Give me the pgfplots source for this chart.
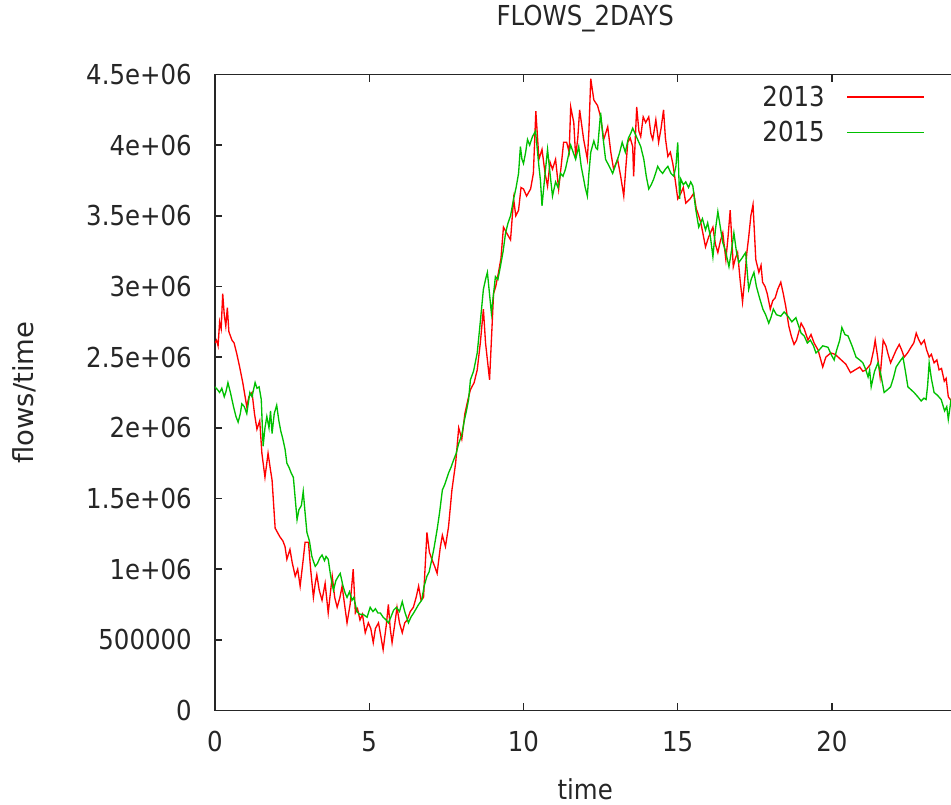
\documentclass[border=0pt]{standalone}
\usepackage{fontspec}
\setmainfont{DejaVu Sans}[FakeStretch=0.89]
\newfontfamily\ylabelfont{DejaVu Sans}
\usepackage{pgfplots}
\usepackage{pgfplotstable}
\pgfplotsset{compat=1.18}

\definecolor{gpred}{RGB}{255,0,0}
\definecolor{gpgreen}{RGB}{0,192,0}
\definecolor{gptext}{RGB}{38,38,38}
\newcommand\gpfont{\fontsize{20.6}{24}\selectfont}

% flows per time step, in millions
\pgfplotstableread{
t v
0.00 2.60
0.05 2.62
0.10 2.58
0.15 2.75
0.20 2.70
0.25 2.95
0.30 2.80
0.35 2.72
0.40 2.85
0.45 2.68
0.55 2.62
0.62 2.60
0.70 2.53
0.80 2.43
0.90 2.32
1.03 2.15
1.10 2.22
1.20 2.25
1.28 2.10
1.36 1.99
1.45 2.05
1.52 1.82
1.62 1.65
1.72 1.82
1.80 1.70
1.85 1.63
1.95 1.29
2.05 1.25
2.10 1.23
2.20 1.20
2.27 1.16
2.33 1.07
2.43 1.14
2.50 1.05
2.60 0.95
2.68 1.00
2.76 0.88
2.85 1.05
2.92 1.19
3.03 1.19
3.10 1.00
3.19 0.80
3.25 0.90
3.30 0.96
3.38 0.85
3.47 0.78
3.57 0.90
3.67 0.69
3.75 0.85
3.80 0.95
3.88 0.80
3.96 0.73
4.05 0.80
4.12 0.88
4.20 0.75
4.28 0.62
4.38 0.75
4.48 1.00
4.55 0.69
4.62 0.72
4.70 0.64
4.78 0.68
4.87 0.55
4.97 0.62
5.05 0.58
5.13 0.48
5.20 0.58
5.30 0.62
5.38 0.52
5.45 0.43
5.55 0.60
5.62 0.75
5.68 0.58
5.74 0.48
5.82 0.60
5.90 0.73
5.98 0.62
6.07 0.55
6.15 0.62
6.23 0.64
6.33 0.70
6.43 0.73
6.52 0.80
6.60 0.88
6.68 0.78
6.76 0.80
6.87 1.26
6.95 1.12
7.03 1.07
7.12 1.02
7.20 0.97
7.30 1.15
7.37 1.24
7.47 1.16
7.57 1.30
7.68 1.56
7.80 1.75
7.90 2.00
8.00 1.92
8.10 2.10
8.20 2.20
8.28 2.27
8.40 2.32
8.50 2.41
8.60 2.60
8.70 2.84
8.77 2.60
8.83 2.48
8.90 2.34
9.03 2.95
9.10 3.00
9.19 3.10
9.27 3.20
9.35 3.42
9.45 3.38
9.58 3.33
9.68 3.62
9.75 3.50
9.84 3.54
9.92 3.70
10.00 3.69
10.10 3.64
10.23 3.69
10.32 3.80
10.40 4.24
10.50 3.90
10.60 3.97
10.70 3.80
10.78 3.71
10.86 3.88
10.94 3.83
11.04 3.90
11.14 3.69
11.22 3.85
11.30 4.02
11.40 4.02
11.48 3.95
11.53 4.27
11.63 4.16
11.69 3.92
11.76 4.05
11.82 4.25
11.95 4.04
12.07 3.90
12.12 4.10
12.18 4.47
12.28 4.32
12.40 4.28
12.50 4.20
12.60 4.04
12.73 4.13
12.83 3.95
12.92 3.83
13.05 3.90
13.15 3.78
13.25 3.64
13.32 3.85
13.38 4.02
13.46 4.05
13.54 3.99
13.57 3.78
13.67 4.27
13.74 4.10
13.80 4.06
13.88 4.20
13.96 4.16
14.06 4.20
14.13 4.08
14.19 4.04
14.29 4.18
14.38 4.02
14.46 4.12
14.54 4.25
14.60 4.05
14.68 3.92
14.76 3.95
14.84 3.87
14.92 3.75
15.00 3.62
15.10 3.66
15.18 3.70
15.26 3.59
15.40 3.62
15.52 3.66
15.60 3.55
15.65 3.52
15.75 3.45
15.90 3.28
16.00 3.35
16.14 3.42
16.22 3.30
16.30 3.24
16.38 3.32
16.46 3.38
16.56 3.19
16.63 3.35
16.70 3.54
16.80 3.14
16.87 3.20
16.94 3.24
17.02 3.05
17.10 2.89
17.17 3.05
17.24 3.24
17.30 3.35
17.37 3.50
17.44 3.58
17.53 3.19
17.63 3.10
17.70 3.15
17.75 3.03
17.83 3.00
17.90 2.95
18.00 2.84
18.08 2.90
18.16 2.92
18.24 2.98
18.34 3.03
18.42 2.95
18.50 2.86
18.60 2.72
18.68 2.65
18.77 2.59
18.85 2.62
19.00 2.74
19.10 2.70
19.22 2.62
19.32 2.66
19.42 2.60
19.55 2.55
19.70 2.43
19.80 2.50
19.96 2.53
20.10 2.52
20.30 2.48
20.45 2.45
20.60 2.39
20.75 2.41
20.90 2.43
21.00 2.40
21.10 2.41
21.25 2.45
21.35 2.55
21.40 2.62
21.48 2.50
21.56 2.36
21.66 2.62
21.75 2.58
21.82 2.52
21.90 2.46
21.98 2.50
22.08 2.55
22.18 2.59
22.26 2.55
22.34 2.50
22.45 2.53
22.56 2.57
22.65 2.60
22.73 2.67
22.80 2.63
22.89 2.59
22.99 2.62
23.07 2.55
23.15 2.50
23.22 2.52
23.31 2.46
23.40 2.48
23.47 2.41
23.55 2.42
23.64 2.33
23.70 2.35
23.77 2.22
23.90 2.18
24.00 2.15
}\flowsA

\pgfplotstableread{
t v
0.00 2.29
0.08 2.27
0.15 2.25
0.22 2.28
0.30 2.22
0.36 2.26
0.42 2.32
0.50 2.25
0.60 2.15
0.68 2.08
0.75 2.04
0.82 2.10
0.87 2.17
0.95 2.15
1.03 2.10
1.13 2.25
1.20 2.22
1.30 2.32
1.36 2.28
1.43 2.29
1.50 2.20
1.56 1.87
1.62 2.00
1.68 2.08
1.75 2.00
1.80 2.12
1.85 1.96
1.92 2.10
2.00 2.16
2.07 2.05
2.13 1.98
2.20 1.92
2.27 1.85
2.33 1.75
2.40 1.72
2.47 1.68
2.54 1.65
2.60 1.50
2.66 1.35
2.72 1.42
2.80 1.45
2.86 1.55
2.92 1.40
2.98 1.26
3.06 1.20
3.14 1.09
3.20 1.05
3.25 1.02
3.32 1.04
3.40 1.08
3.47 1.10
3.55 1.06
3.60 1.09
3.67 1.07
3.75 0.95
3.84 0.85
3.92 0.92
4.00 0.95
4.06 0.97
4.15 0.88
4.22 0.83
4.28 0.80
4.36 0.84
4.44 0.78
4.50 0.80
4.60 0.70
4.70 0.68
4.80 0.68
4.93 0.66
5.03 0.73
5.12 0.70
5.20 0.72
5.28 0.69
5.36 0.69
5.45 0.66
5.55 0.64
5.62 0.62
5.70 0.66
5.79 0.71
5.88 0.73
5.98 0.70
6.07 0.77
6.15 0.70
6.27 0.62
6.35 0.66
6.44 0.69
6.52 0.72
6.60 0.75
6.70 0.78
6.78 0.88
6.87 0.95
6.94 0.98
7.00 1.04
7.10 1.15
7.20 1.28
7.28 1.40
7.37 1.56
7.45 1.60
7.57 1.68
7.65 1.72
7.73 1.77
7.82 1.82
7.90 1.89
8.00 1.95
8.08 2.05
8.15 2.12
8.22 2.20
8.28 2.34
8.38 2.40
8.50 2.53
8.60 2.75
8.70 2.98
8.77 3.05
8.83 3.10
8.96 2.81
9.09 3.07
9.17 3.05
9.25 3.14
9.34 3.25
9.42 3.38
9.50 3.45
9.58 3.50
9.68 3.62
9.76 3.70
9.84 3.80
9.90 3.99
9.95 3.90
10.00 3.87
10.07 3.95
10.13 4.04
10.20 4.00
10.29 4.06
10.39 4.10
10.50 3.85
10.55 3.75
10.60 3.57
10.70 3.80
10.78 3.97
10.86 3.80
10.94 3.64
11.04 3.74
11.12 3.70
11.20 3.80
11.28 3.78
11.36 3.83
11.45 3.92
11.53 4.00
11.61 3.95
11.69 3.90
11.79 3.99
11.87 3.85
11.95 3.76
12.00 3.70
12.07 3.64
12.12 3.80
12.18 3.95
12.28 4.03
12.35 3.98
12.40 3.97
12.45 4.10
12.50 4.23
12.58 4.05
12.66 3.90
12.78 3.85
12.89 3.80
12.97 3.85
13.05 3.90
13.12 3.95
13.20 4.02
13.30 3.95
13.40 4.05
13.47 4.08
13.54 4.12
13.62 4.08
13.70 4.04
13.80 3.99
13.90 3.90
13.98 3.78
14.06 3.69
14.14 3.72
14.22 3.76
14.28 3.80
14.35 3.85
14.43 3.82
14.51 3.80
14.60 3.83
14.68 3.85
14.78 3.80
14.87 3.78
14.94 3.85
15.00 4.02
15.06 3.62
15.10 3.76
15.18 3.72
15.26 3.74
15.35 3.70
15.42 3.74
15.49 3.71
15.58 3.55
15.68 3.42
15.80 3.48
15.90 3.40
15.97 3.45
16.06 3.35
16.14 3.21
16.22 3.40
16.30 3.53
16.38 3.42
16.46 3.31
16.55 3.25
16.66 3.14
16.74 3.25
16.82 3.38
16.90 3.25
16.98 3.17
17.08 3.20
17.20 3.24
17.30 2.98
17.38 3.05
17.47 3.10
17.55 3.00
17.65 2.92
17.76 2.84
17.85 2.80
17.95 2.74
18.02 2.78
18.10 2.84
18.20 2.80
18.34 2.79
18.45 2.82
18.57 2.79
18.70 2.75
18.83 2.78
18.92 2.72
19.00 2.67
19.10 2.65
19.20 2.60
19.30 2.62
19.40 2.58
19.48 2.53
19.58 2.55
19.70 2.58
19.87 2.57
19.97 2.52
20.07 2.48
20.15 2.55
20.25 2.62
20.32 2.71
20.42 2.66
20.52 2.65
20.65 2.58
20.78 2.50
20.90 2.48
21.00 2.46
21.08 2.42
21.17 2.36
21.22 2.41
21.27 2.29
21.38 2.40
21.49 2.46
21.58 2.38
21.69 2.25
21.80 2.27
21.90 2.29
22.00 2.36
22.08 2.43
22.20 2.47
22.30 2.50
22.38 2.40
22.46 2.29
22.56 2.27
22.66 2.25
22.78 2.22
22.89 2.19
22.98 2.21
23.05 2.20
23.10 2.30
23.15 2.46
23.22 2.35
23.31 2.25
23.42 2.23
23.54 2.20
23.65 2.12
23.72 2.15
23.77 2.06
23.86 2.20
24.00 2.18
}\flowsB

\begin{document}
\begin{tikzpicture}[x=0.75pt,y=0.75pt]
\useasboundingbox (0,0) rectangle (951,805);
\clip (0,0) rectangle (951,805);
\begin{axis}[
  at={(161.25pt,70.875pt)}, anchor=south west,
  scale only axis, width=555.3pt, height=477pt,
  xmin=0, xmax=24, ymin=0, ymax=4.5,
  xtick={0,5,10,15,20},
  xticklabels={0,5,10,15,20},
  ytick={0,0.5,1,1.5,2,2.5,3,3.5,4,4.5},
  yticklabels={0,500000,1e+06,1.5e+06,2e+06,2.5e+06,3e+06,3.5e+06,4e+06,4.5e+06},
  ytick pos=left,
  tick align=inside, major tick length=5.6pt,
  axis line style={gptext, line width=1.2pt},
  every tick/.style={gptext, line width=1.1pt},
  tick label style={font=\gpfont, text=gptext, inner sep=0pt},
  yticklabel style={anchor=east, xshift=-17.25pt},
  xticklabel style={anchor=north, yshift=-15.4pt},
  title={FLOWS\_2DAYS},
  title style={font=\gpfont, text=gptext, at={(axis description cs:0.5,1.0637)}, anchor=base, inner sep=0pt},
  xlabel={time},
  xlabel style={font=\gpfont, text=gptext, at={(axis description cs:0.5,-0.1407)}, anchor=base, inner sep=0pt},
  ylabel={flows/time},
  ylabel style={font=\ylabelfont\gpfont, text=gptext, at={(axis description cs:-0.2445,0.5)}, anchor=base, inner sep=0pt},
  legend style={draw=none, fill=none, at={(axis description cs:0.959,1)}, anchor=north east, yshift=-8.6pt,
    font=\gpfont, text=gptext, row sep=9.75pt, column sep=16.5pt, inner sep=0pt, outer sep=0pt,
    nodes={inner sep=0pt}},
  legend cell align=right, legend plot pos=right,
]
\addplot[gpred, line width=1pt,
  legend image code/.code={\draw[gpred, line width=1pt] (0pt,0pt) -- (57.75pt,0pt);}]
  table[x=t, y=v] {\flowsA};
\addlegendentry{2013}
\addplot[gpgreen, line width=1pt,
  legend image code/.code={\draw[gpgreen, line width=1pt] (0pt,0pt) -- (57.75pt,0pt);}]
  table[x=t, y=v] {\flowsB};
\addlegendentry{2015}
\end{axis}
\end{tikzpicture}
\end{document}
